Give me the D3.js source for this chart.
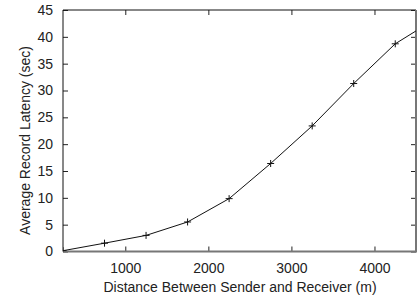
<!DOCTYPE html>
<html><head><meta charset="utf-8">
<script src="https://cdn.jsdelivr.net/npm/d3@7"></script>
<style>body{margin:0;background:#fff}svg{display:block}text{font-family:"Liberation Sans",Arial,sans-serif;fill:#222}</style>
</head><body>
<script>
const distances = [250, 750, 1250, 1750, 2250, 2750, 3250, 3750, 4250, 4750];
const latency = [0.15, 1.55, 3.0, 5.5, 9.85, 16.4, 23.4, 31.3, 38.7, 43.5];
const xTicks = [1000, 2000, 3000, 4000];
const yTicks = [0, 5, 10, 15, 20, 25, 30, 35, 40, 45];

const W = 417, H = 304;
const m = {l: 63, r: 1, t: 10, b: 52.5};
const svg = d3.select("body").append("svg").attr("width", W).attr("height", H);
const x = d3.scaleLinear().domain([250, 4500]).range([m.l, W - m.r]);
const y = d3.scaleLinear().domain([0, 45]).range([H - m.b, m.t]);

svg.append("clipPath").attr("id", "c").append("rect")
  .attr("x", m.l).attr("y", m.t).attr("width", W - m.r - m.l).attr("height", H - m.b - m.t);

const fs = 14;
const fmt = d3.format("d");
const gx = svg.append("g").attr("transform", `translate(0,${H - m.b})`)
  .call(d3.axisBottom(x).tickValues(xTicks).tickFormat(fmt).tickSizeInner(-5).tickSizeOuter(0).tickPadding(11.5));
const gxt = svg.append("g").attr("transform", `translate(0,${m.t})`)
  .call(d3.axisTop(x).tickValues(xTicks).tickSizeInner(-5).tickSizeOuter(0).tickFormat(""));
const gy = svg.append("g").attr("transform", `translate(${m.l},0)`)
  .call(d3.axisLeft(y).tickValues(yTicks).tickFormat(fmt).tickSizeInner(-5).tickSizeOuter(0).tickPadding(10));
const gyr = svg.append("g").attr("transform", `translate(${W - m.r},0)`)
  .call(d3.axisRight(y).tickValues(yTicks).tickSizeInner(-5).tickSizeOuter(0).tickFormat(""));
[gx, gxt, gy, gyr].forEach(g => {
  g.select(".domain").remove();
  g.selectAll("line").attr("stroke", "#222");
  g.selectAll("text").attr("font-size", fs).attr("font-family", "Liberation Sans, Arial, sans-serif").attr("fill", "#222");
});

svg.append("path").attr("fill", "none").attr("stroke", "#111").attr("stroke-width", 1)
  .attr("d", `M${m.l},${H - m.b}V${m.t}H${W - m.r}`);
svg.append("path").attr("fill", "none").attr("stroke", "#777").attr("stroke-width", 2)
  .attr("d", `M${m.l},${H - m.b}H${W - m.r}V${m.t}`);

const line = d3.line().x((d, i) => x(distances[i])).y(d => y(d));
const g = svg.append("g").attr("clip-path", "url(#c)");
g.append("path").datum(latency).attr("fill", "none").attr("stroke", "#111").attr("stroke-width", 1).attr("d", line);
const s = 3.5;
g.selectAll("path.m").data(latency).join("path").attr("class", "m")
  .attr("stroke", "#111").attr("stroke-width", 1).attr("fill", "none")
  .attr("d", (d, i) => { const cx = x(distances[i]), cy = y(d); return `M${cx - s},${cy}H${cx + s}M${cx},${cy - s}V${cy + s}`; });

svg.append("text").attr("x", 240).attr("y", 292.3).attr("text-anchor", "middle")
  .attr("font-size", fs).text("Distance Between Sender and Receiver (m)");
svg.append("text").attr("transform", `translate(30,140.5) rotate(-90)`).attr("text-anchor", "middle")
  .attr("font-size", fs).text("Average Record Latency (sec)");
</script>
</body></html>
